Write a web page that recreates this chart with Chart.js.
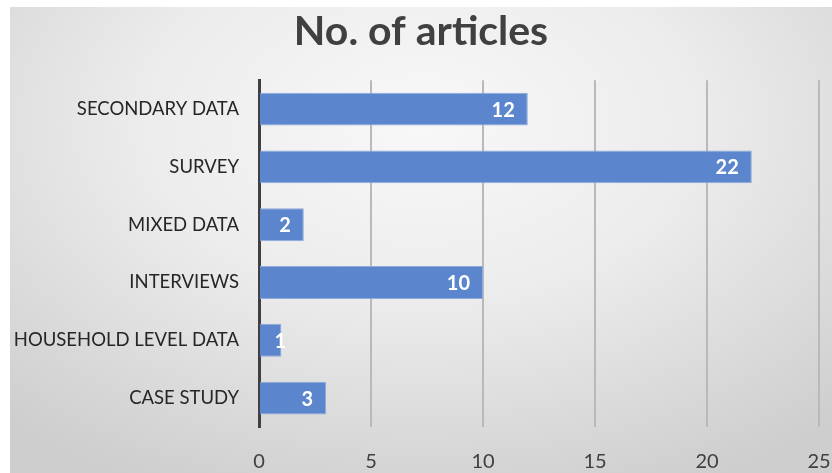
<!DOCTYPE html>
<html>
<head>
<meta charset="utf-8">
<script src="https://cdn.jsdelivr.net/npm/chart.js@4.4.1/dist/chart.umd.min.js"></script>
<style>
  html, body { margin: 0; padding: 0; background: #ffffff; }
  #frame {
    position: absolute; left: 10px; top: 7px; width: 822px; height: 466px;
    background: radial-gradient(ellipse 75% 85% at 50% 25%, #f8f8f8 0%, #ececec 45%, #d6d6d6 85%, #cecece 100%);
  }
  #chart { display: block; }
</style>
</head>
<body>
<div id="frame"><canvas id="chart" width="822" height="466"></canvas></div>
<script>
const categories = ['SECONDARY DATA', 'SURVEY', 'MIXED DATA', 'INTERVIEWS', 'HOUSEHOLD LEVEL DATA', 'CASE STUDY'];
const articleCounts = [12, 22, 2, 10, 1, 3];
const xTicks = [0, 5, 10, 15, 20, 25];

const FONT = 'Lato, "Open Sans", sans-serif';

// Writes each bar's value inside its end, in white bold type
const valueLabels = {
  id: 'valueLabels',
  afterDatasetsDraw(chart) {
    const ctx = chart.ctx;
    const meta = chart.getDatasetMeta(0);
    ctx.save();
    ctx.font = 'bold 20px ' + FONT;
    ctx.fillStyle = '#ffffff';
    ctx.textBaseline = 'middle';
    meta.data.forEach((bar, i) => {
      const text = String(articleCounts[i]);
      const w = ctx.measureText(text).width;
      const right = bar.x - 13;
      if (right - w >= bar.base + 4) {
        ctx.textAlign = 'right';
        ctx.fillText(text, right, bar.y + 1);
      } else {
        ctx.textAlign = 'center';
        ctx.fillText(text, bar.x - 1, bar.y + 1);
      }
    });
    ctx.restore();
  }
};

new Chart(document.getElementById('chart'), {
  type: 'bar',
  data: {
    labels: categories,
    datasets: [{
      data: articleCounts,
      backgroundColor: '#5b85cc',
      borderColor: '#8fabdc',
      borderWidth: 1,
      borderSkipped: 'start',
      categoryPercentage: 1,
      barPercentage: 0.57
    }]
  },
  options: {
    indexAxis: 'y',
    responsive: false,
    animation: false,
    layout: { padding: 0 },
    plugins: {
      legend: { display: false },
      tooltip: { enabled: false },
      title: {
        display: true,
        text: 'No. of articles',
        color: '#404040',
        font: { family: FONT, size: 41, weight: 'bold', lineHeight: 1.2 },
        padding: { top: 0, bottom: 24 }
      }
    },
    scales: {
      x: {
        min: 0,
        max: 25,
        afterBuildTicks(scale) { scale.ticks = xTicks.map(v => ({ value: v })); },
        afterFit(scale) {
          scale.height = 46;
          scale.paddingLeft = 0;
          scale.paddingRight = 13;
        },
        border: { display: false },
        grid: {
          drawTicks: false,
          lineWidth: 2,
          color: ctx => ctx.tick && ctx.tick.value === 0 ? 'rgba(0,0,0,0)' : '#b9b9b9'
        },
        ticks: {
          padding: 23,
          color: '#404040',
          font: { family: FONT, size: 20 }
        }
      },
      y: {
        afterFit(scale) { scale.width = 249; },
        border: { display: true, color: '#404040', width: 3 },
        grid: { display: false, drawTicks: false },
        ticks: {
          padding: 20,
          color: '#262626',
          font: { family: FONT, size: 18.5 }
        }
      }
    }
  },
  plugins: [valueLabels]
});
</script>
</body>
</html>
